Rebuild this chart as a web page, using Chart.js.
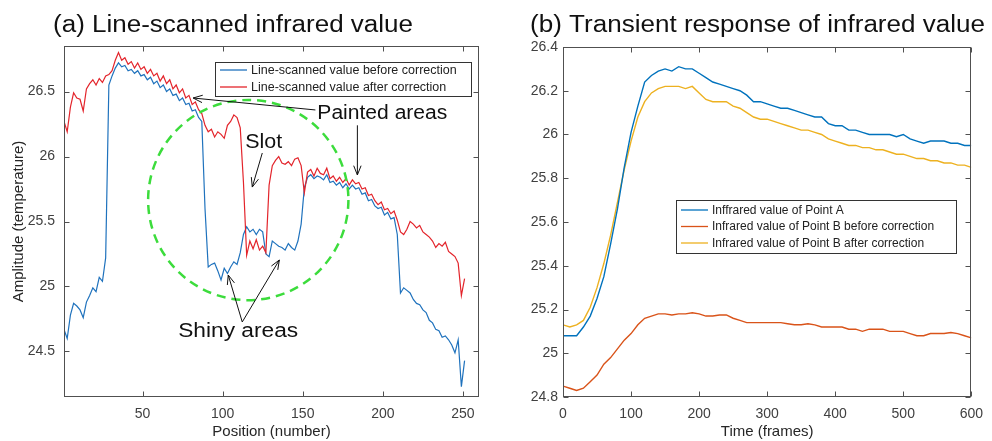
<!DOCTYPE html>
<html lang="en">
<head>
<meta charset="UTF-8">
<title>Infrared value</title>
<style>
  html, body { margin: 0; padding: 0; background: #fff; }
  #wrap { display: flex; width: 992px; height: 441px; }
  .box { width: 496px; height: 441px; }
</style>
</head>
<body>
<div id="wrap">
  <div class="box"><canvas id="chartA" width="496" height="441"></canvas></div>
  <div class="box"><canvas id="chartB" width="496" height="441"></canvas></div>
</div>
<script src="https://cdn.jsdelivr.net/npm/chart.js"></script>
<script>
// (a) line scan, one reading every 2 positions
const positions = [
  1, 3, 5, 7, 9, 11, 13, 15, 17, 19,
  21, 23, 25, 27, 29, 31, 33, 35, 37, 39,
  41, 43, 45, 47, 49, 51, 53, 55, 57, 59,
  61, 63, 65, 67, 69, 71, 73, 75, 77, 79,
  81, 83, 85, 87, 89, 91, 93, 95, 97, 99,
  101, 103, 105, 107, 109, 111, 113, 115, 117, 119,
  121, 123, 125, 127, 129, 131, 133, 135, 137, 139,
  141, 143, 145, 147, 149, 151, 153, 155, 157, 159,
  161, 163, 165, 167, 169, 171, 173, 175, 177, 179,
  181, 183, 185, 187, 189, 191, 193, 195, 197, 199,
  201, 203, 205, 207, 209, 211, 213, 215, 217, 219,
  221, 223, 225, 227, 229, 231, 233, 235, 237, 239,
  241, 243, 245, 247, 249, 251
];
const scanBefore = [
  24.67, 24.60, 24.78, 24.87, 24.85, 24.82, 24.76, 24.88, 24.93, 24.99,
  24.96, 25.07, 25.04, 25.22, 26.55, 26.62, 26.68, 26.72, 26.69, 26.70,
  26.66, 26.67, 26.64, 26.66, 26.62, 26.63, 26.59, 26.61, 26.56, 26.58,
  26.53, 26.55, 26.50, 26.52, 26.47, 26.48, 26.43, 26.45, 26.40, 26.41,
  26.35, 26.36, 26.30, 26.27, 25.60, 25.15, 25.17, 25.18, 25.12, 25.05,
  25.14, 25.10, 25.15, 25.19, 25.17, 25.26, 25.40, 25.46, 25.42, 25.44,
  25.40, 25.44, 25.42, 25.25, 25.23, 25.35, 25.33, 25.31, 25.30, 25.28,
  25.33, 25.30, 25.28, 25.35, 25.48, 25.76, 25.84, 25.86, 25.83, 25.85,
  25.84, 25.82, 25.86, 25.80, 25.81, 25.78, 25.80, 25.76, 25.79, 25.75,
  25.78, 25.75, 25.76, 25.71, 25.72, 25.66, 25.67, 25.62, 25.60, 25.61,
  25.55, 25.57, 25.52, 25.53, 25.40, 24.95, 24.99, 24.97, 24.95, 24.90,
  24.87, 24.86, 24.82, 24.80, 24.74, 24.72, 24.67, 24.66, 24.61, 24.62,
  24.59, 24.55, 24.49, 24.59, 24.23, 24.43
];
const scanAfter = [
  26.27, 26.19, 26.38, 26.49, 26.45, 26.44, 26.35, 26.52, 26.56, 26.59,
  26.55, 26.60, 26.57, 26.62, 26.63, 26.66, 26.74, 26.80, 26.74, 26.76,
  26.71, 26.73, 26.68, 26.72, 26.67, 26.69, 26.64, 26.67, 26.62, 26.64,
  26.58, 26.62, 26.56, 26.59, 26.52, 26.55, 26.49, 26.52, 26.45, 26.47,
  26.40, 26.42, 26.36, 26.33, 26.24, 26.19, 26.21, 26.15, 26.19, 26.17,
  26.14, 26.24, 26.27, 26.32, 26.30, 26.22, 25.80, 25.24, 25.35, 25.29,
  25.36, 25.28, 25.31, 25.26, 25.78, 25.93, 25.97, 26.00, 25.95, 25.94,
  25.96, 25.93, 25.98, 25.99, 25.93, 25.72, 25.88, 25.90, 25.85, 25.91,
  25.87, 25.86, 25.91, 25.83, 25.85, 25.81, 25.84, 25.80, 25.83, 25.78,
  25.82, 25.79, 25.80, 25.75, 25.76, 25.70, 25.71, 25.66, 25.63, 25.65,
  25.59, 25.60, 25.56, 25.58, 25.51, 25.42, 25.40, 25.44, 25.50, 25.48,
  25.45, 25.47, 25.42, 25.40, 25.38, 25.35, 25.30, 25.33, 25.31, 25.34,
  25.27, 25.25, 25.23, 25.18, 24.93, 25.06
];
const posTicks = [50, 100, 150, 200, 250];
const ampTicks = [24.5, 25, 25.5, 26, 26.5];

// (b) transient response, every 10 frames
const frames = [
  0, 10, 20, 30, 40, 50, 60, 70, 80, 90,
  100, 110, 120, 130, 140, 150, 160, 170, 180, 190,
  200, 210, 220, 230, 240, 250, 260, 270, 280, 290,
  300, 310, 320, 330, 340, 350, 360, 370, 380, 390,
  400, 410, 420, 430, 440, 450, 460, 470, 480, 490,
  500, 510, 520, 530, 540, 550, 560, 570, 580, 590,
  600
];
const pointA = [
  25.08, 25.08, 25.08, 25.12, 25.17, 25.25, 25.35, 25.50, 25.66, 25.85,
  26.01, 26.13, 26.24, 26.27, 26.29, 26.30, 26.29, 26.31, 26.30, 26.30,
  26.28, 26.26, 26.24, 26.23, 26.22, 26.21, 26.20, 26.18, 26.15, 26.15,
  26.14, 26.13, 26.12, 26.12, 26.11, 26.10, 26.09, 26.08, 26.08, 26.05,
  26.04, 26.04, 26.02, 26.02, 26.01, 26.00, 26.00, 26.00, 26.00, 25.99,
  26.00, 25.98, 25.97, 25.96, 25.97, 25.97, 25.97, 25.96, 25.96, 25.95,
  25.95
];
const pointBBefore = [
  24.85, 24.84, 24.83, 24.84, 24.87, 24.90, 24.95, 24.98, 25.02, 25.06,
  25.09, 25.13, 25.16, 25.17, 25.18, 25.18, 25.175, 25.18, 25.18, 25.185,
  25.18, 25.17, 25.17, 25.175, 25.175, 25.16, 25.15, 25.14, 25.14, 25.14,
  25.14, 25.14, 25.14, 25.135, 25.13, 25.13, 25.135, 25.13, 25.12, 25.12,
  25.12, 25.12, 25.11, 25.11, 25.10, 25.11, 25.11, 25.11, 25.10, 25.10,
  25.10, 25.09, 25.08, 25.08, 25.09, 25.09, 25.09, 25.095, 25.09, 25.08,
  25.07
];
const pointBAfter = [
  25.13, 25.12, 25.13, 25.15, 25.21, 25.30, 25.41, 25.54, 25.69, 25.84,
  25.97, 26.08, 26.15, 26.19, 26.21, 26.22, 26.22, 26.22, 26.21, 26.22,
  26.19, 26.16, 26.15, 26.15, 26.15, 26.13, 26.12, 26.10, 26.08, 26.07,
  26.07, 26.06, 26.05, 26.04, 26.03, 26.02, 26.02, 26.01, 26.00, 25.98,
  25.97, 25.96, 25.95, 25.95, 25.94, 25.94, 25.93, 25.93, 25.92, 25.91,
  25.91, 25.90, 25.89, 25.89, 25.88, 25.88, 25.87, 25.87, 25.86, 25.86,
  25.85
];
const frameTicks = [0, 100, 200, 300, 400, 500, 600];
const valueTicks = [24.8, 25, 25.2, 25.4, 25.6, 25.8, 26, 26.2, 26.4];

const FONT = '"Liberation Sans", Arial, Helvetica, sans-serif';
Chart.defaults.font.family = FONT;
Chart.defaults.color = '#404040';

const pairs = (xs, ys) => xs.map((x, i) => ({x: x, y: ys[i]}));

// text squeezed/stretched to a given width
function drawText(ctx, txt, x, y, size, width) {
  ctx.save();
  ctx.font = size + 'px ' + FONT;
  ctx.textBaseline = 'alphabetic';
  ctx.textAlign = 'left';
  const m = ctx.measureText(txt).width;
  ctx.translate(x, y);
  if (width) ctx.scale(width / m, 1);
  ctx.fillText(txt, 0, 0);
  ctx.restore();
}

function arrow(ctx, x1, y1, x2, y2) {
  const ang = Math.atan2(y2 - y1, x2 - x1), L = 10, s = 0.38;
  ctx.beginPath();
  ctx.moveTo(x1, y1);
  ctx.lineTo(x2, y2);
  ctx.moveTo(x2 - L * Math.cos(ang - s), y2 - L * Math.sin(ang - s));
  ctx.lineTo(x2, y2);
  ctx.lineTo(x2 - L * Math.cos(ang + s), y2 - L * Math.sin(ang + s));
  ctx.stroke();
}

// matlab style box: frame, inward ticks, title, legend inside axes
const matlabBox = {
  id: 'matlabBox',
  afterDraw(chart, args, opts) {
    const {ctx, chartArea: a, scales: {x, y}} = chart;
    ctx.save();
    ctx.strokeStyle = '#505050';
    ctx.lineWidth = 1;
    const L = Math.round(a.left) + 0.5, R = Math.round(a.right) - 0.5;
    const T = Math.round(a.top) + 0.5, B = Math.round(a.bottom) - 0.5;
    ctx.strokeRect(L, T, R - L, B - T);
    ctx.beginPath();
    for (const t of x.ticks) {
      const px = Math.round(x.getPixelForValue(t.value)) + 0.5;
      ctx.moveTo(px, B); ctx.lineTo(px, B - 5);
      ctx.moveTo(px, T); ctx.lineTo(px, T + 5);
    }
    for (const t of y.ticks) {
      const py = Math.round(y.getPixelForValue(t.value)) + 0.5;
      ctx.moveTo(L, py); ctx.lineTo(L + 5, py);
      ctx.moveTo(R, py); ctx.lineTo(R - 5, py);
    }
    ctx.stroke();

    // title
    ctx.fillStyle = '#111';
    drawText(ctx, opts.title, a.left + opts.titleDx, opts.titleY, 23, opts.titleW);

    // legend
    const lg = opts.legend;
    ctx.fillStyle = '#fff';
    ctx.fillRect(lg.x, lg.y, lg.w, lg.h);
    ctx.strokeStyle = '#333';
    ctx.strokeRect(lg.x + 0.5, lg.y + 0.5, lg.w, lg.h);
    chart.data.datasets.forEach((ds, i) => {
      const cy = lg.y + lg.first + i * lg.row;
      ctx.strokeStyle = ds.borderColor;
      ctx.lineWidth = 1.3;
      ctx.beginPath();
      ctx.moveTo(lg.x + 5, cy); ctx.lineTo(lg.x + 32, cy);
      ctx.stroke();
      ctx.fillStyle = '#222';
      ctx.font = lg.size + 'px ' + FONT;
      ctx.textBaseline = 'middle';
      ctx.fillText(ds.label, lg.x + 36, cy + 0.5);
    });
    ctx.restore();
  }
};

// circle, arrows and labels on panel (a), in data units
const notes = {
  id: 'notes',
  afterDatasetsDraw(chart, args, opts) {
    if (!opts.items) return;
    const {ctx, scales: {x, y}} = chart;
    const X = v => x.getPixelForValue(v), Y = v => y.getPixelForValue(v);
    ctx.save();
    const c = opts.circle;
    ctx.strokeStyle = 'rgb(60, 220, 60)';
    ctx.lineWidth = 2.5;
    ctx.setLineDash([9, 6]);
    ctx.beginPath();
    ctx.ellipse(X(c.x), Y(c.y), Math.abs(X(c.x + c.rx) - X(c.x)), Math.abs(Y(c.y + c.ry) - Y(c.y)), 0, 0, Math.PI * 2);
    ctx.stroke();
    ctx.setLineDash([]);
    ctx.strokeStyle = '#111';
    ctx.lineWidth = 1;
    for (const ar of opts.arrows) arrow(ctx, X(ar[0]), Y(ar[1]), X(ar[2]), Y(ar[3]));
    ctx.fillStyle = '#111';
    for (const t of opts.items) drawText(ctx, t.text, X(t.x), Y(t.y), 20, t.w);
    ctx.restore();
  }
};

const fixTicks = list => scale => { scale.ticks = list.map(v => ({value: v})); };

function makeOptions(o) {
  return {
    responsive: false,
    animation: false,
    events: [],
    layout: {padding: o.padding},
    plugins: {
      legend: {display: false},
      tooltip: {enabled: false},
      matlabBox: o.box,
      notes: o.notes || {}
    },
    elements: {point: {radius: 0}, line: {tension: 0}},
    scales: {
      x: {
        type: 'linear', min: o.xMin, max: o.xMax,
        grid: {display: false, drawTicks: false}, border: {display: false},
        afterBuildTicks: fixTicks(o.xTicks),
        afterFit: s => { s.height = 44; },
        ticks: {font: {size: 14}, padding: 9, maxRotation: 0, autoSkip: false, callback: v => String(v)},
        title: {display: true, text: o.xTitle, font: {size: 15}, color: '#262626', padding: {top: 0, bottom: 0}}
      },
      y: {
        type: 'linear', min: o.yMin, max: o.yMax,
        grid: {display: false, drawTicks: false}, border: {display: false},
        afterBuildTicks: fixTicks(o.yTicks),
        afterFit: s => { s.width = o.yWidth; },
        ticks: {font: {size: 14}, padding: o.yPad, autoSkip: false, callback: v => String(v)},
        title: {display: !!o.yTitle, text: o.yTitle || '', font: {size: 15}, color: '#262626', padding: {top: 10, bottom: 0}}
      }
    }
  };
}

new Chart(document.getElementById('chartA'), {
  type: 'line',
  data: {
    datasets: [
      {label: 'Line-scanned value before correction', data: pairs(positions, scanBefore),
       borderColor: '#1f72bd', borderWidth: 1.2, order: 1},
      {label: 'Line-scanned value after correction', data: pairs(positions, scanAfter),
       borderColor: '#e3242b', borderWidth: 1.2, order: 0}
    ]
  },
  options: makeOptions({
    padding: {top: 46, right: 17, bottom: 0, left: 0},
    xMin: 1, xMax: 260, xTicks: posTicks, xTitle: 'Position (number)',
    yMin: 24.15, yMax: 26.85, yTicks: ampTicks, yTitle: 'Amplitude (temperature)',
    yWidth: 64, yPad: 9,
    box: {
      title: '(a) Line-scanned infrared value', titleDx: -11, titleY: 32, titleW: 360,
      legend: {x: 215, y: 62, w: 256, h: 34, first: 8, row: 17, size: 12.5}
    },
    notes: {
      circle: {x: 116, y: 25.665, rx: 62.5, ry: 0.77},
      arrows: [
        [157.9, 26.358, 81.6, 26.45],
        [184.1, 26.24, 184.1, 25.858],
        [124.75, 26.027, 118.5, 25.765],
        [112.25, 24.727, 103.5, 25.088],
        [112.25, 24.727, 135.4, 25.204]
      ],
      items: [
        {text: 'Painted areas', x: 159.1, y: 26.288, w: 130},
        {text: 'Slot', x: 114.1, y: 26.065, w: 37},
        {text: 'Shiny areas', x: 72.25, y: 24.61, w: 120}
      ]
    }
  }),
  plugins: [notes, matlabBox]
});

new Chart(document.getElementById('chartB'), {
  type: 'line',
  data: {
    datasets: [
      {label: 'Inffrared value of Point A', data: pairs(frames, pointA),
       borderColor: '#0072bd', borderWidth: 1.4},
      {label: 'Infrared value of Point B before correction', data: pairs(frames, pointBBefore),
       borderColor: '#d95319', borderWidth: 1.4},
      {label: 'Infrared value of Point B after correction', data: pairs(frames, pointBAfter),
       borderColor: '#edb120', borderWidth: 1.4}
    ]
  },
  options: makeOptions({
    padding: {top: 47, right: 13, bottom: 0, left: 0},
    xMin: 0, xMax: 600, xTicks: frameTicks, xTitle: 'Time (frames)',
    yMin: 24.8, yMax: 26.4, yTicks: valueTicks, yTitle: null,
    yWidth: 67, yPad: 5,
    box: {
      title: '(b) Transient response of infrared value', titleDx: -33, titleY: 32, titleW: 455,
      legend: {x: 180, y: 200, w: 280, h: 53, first: 10, row: 16.5, size: 12}
    }
  }),
  plugins: [matlabBox]
});
</script>
</body>
</html>
